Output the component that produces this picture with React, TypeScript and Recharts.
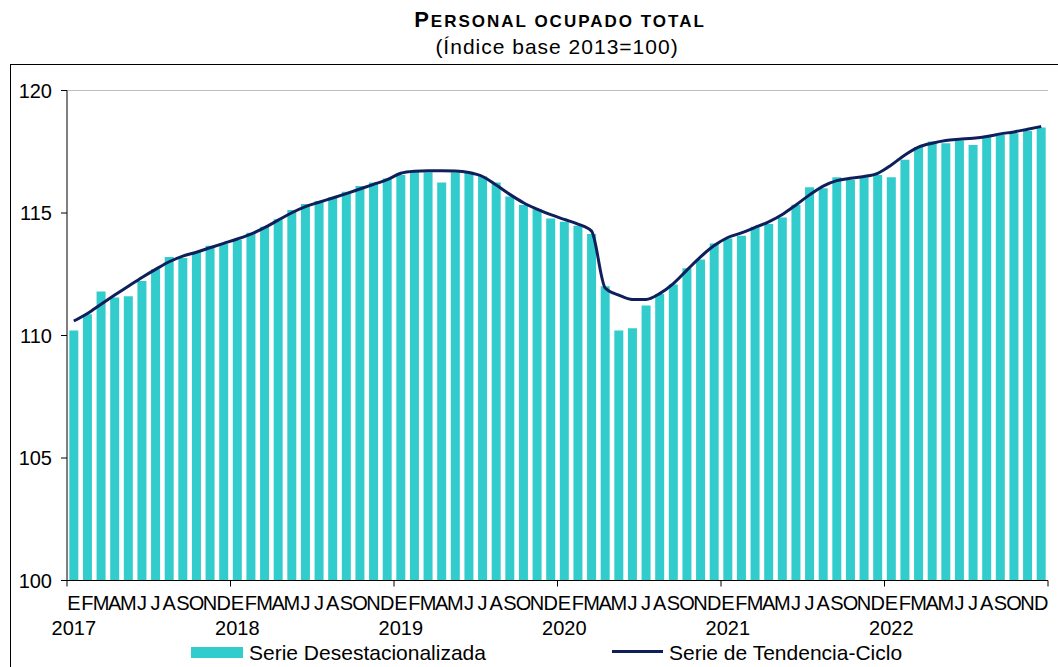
import { Bar, ComposedChart, Line, ReferenceLine, XAxis, YAxis } from "recharts";

const letrasMes = ["E", "F", "M", "A", "M", "J", "J", "A", "S", "O", "N", "D"];
const anios = ["2017", "2018", "2019", "2020", "2021", "2022"];

// Serie desestacionalizada (índice base 2013=100), ene-2017 a dic-2022
const serieDesestacionalizada = [
  110.2, 110.87, 111.8, 111.55, 111.6, 112.22, 112.7, 113.2, 113.16, 113.42, 113.66, 113.76,
  113.92, 114.19, 114.44, 114.74, 115.12, 115.37, 115.49, 115.64, 115.87, 116.1, 116.24, 116.41,
  116.55, 116.75, 116.66, 116.25, 116.66, 116.68, 116.49, 116.25, 115.67, 115.33, 115.15, 114.78,
  114.64, 114.48, 114.14, 112.01, 110.2, 110.3, 111.22, 111.69, 112.08, 112.75, 113.1, 113.76,
  113.96, 114.07, 114.44, 114.55, 114.82, 115.34, 116.05, 116.01, 116.46, 116.35, 116.46, 116.55,
  116.46, 117.17, 117.69, 117.92, 117.85, 117.96, 117.78, 118.1, 118.19, 118.26, 118.35, 118.49,
];

// Serie de tendencia-ciclo
const serieTendenciaCiclo = [
  110.59, 110.9, 111.28, 111.65, 112.01, 112.37, 112.7, 113.01, 113.24, 113.4, 113.58, 113.76,
  113.94, 114.14, 114.4, 114.71, 115.01, 115.26, 115.44, 115.61, 115.79, 115.98, 116.17, 116.36,
  116.62, 116.7, 116.72, 116.72, 116.71, 116.65, 116.49, 116.14, 115.76, 115.42, 115.16, 114.93,
  114.74, 114.55, 114.26, 111.94, 111.65, 111.47, 111.47, 111.71, 112.12, 112.67, 113.21, 113.67,
  114.0, 114.19, 114.41, 114.64, 114.94, 115.33, 115.74, 116.1, 116.32, 116.42, 116.49, 116.62,
  116.96, 117.37, 117.69, 117.85, 117.96, 118.01, 118.05, 118.12, 118.23, 118.31, 118.42, 118.53,
];

const ticksY = [100, 105, 110, 115, 120];

const datos = anios.flatMap((anio, a) =>
  letrasMes.map((mes, m) => ({
    mes,
    anio,
    desest: serieDesestacionalizada[a * 12 + m],
    tendencia: serieTendenciaCiclo[a * 12 + m],
  }))
);

const TURQUESA = "#33CCCC";
const AZUL = "#0F1F5C";
const FUENTE = '"Liberation Sans", Arial, sans-serif';

function MesTick(props: any) {
  const { x, y, payload, index, width, visibleTicksCount } = props;
  const medio = width / visibleTicksCount / 2;
  const ejeY = y - 15;
  return (
    <g>
      <text x={x} y={y} dy="0.71em" textAnchor="middle" fontSize={20} fill="#000">
        {payload.value}
      </text>
      {index % 12 === 0 && (
        <line x1={x - medio} x2={x - medio} y1={ejeY} y2={ejeY + 6} stroke="#000" />
      )}
      {index === visibleTicksCount - 1 && (
        <line x1={x + medio} x2={x + medio} y1={ejeY} y2={ejeY + 6} stroke="#000" />
      )}
    </g>
  );
}

export default function App() {
  return (
    <div
      style={{
        position: "absolute",
        left: 0,
        top: 0,
        width: 1058,
        height: 667,
        overflow: "hidden",
        background: "#fff",
        fontFamily: FUENTE,
        color: "#000",
      }}
    >
      <div
        style={{
          position: "absolute",
          left: 10,
          top: 64,
          width: 1100,
          height: 700,
          borderLeft: "1px solid #000",
          borderTop: "1px solid #000",
        }}
      />
      <div
        style={{
          position: "absolute",
          top: 8,
          left: 0,
          width: 1120,
          textAlign: "center",
          lineHeight: "24px",
          fontWeight: "bold",
          whiteSpace: "nowrap",
        }}
      >
        <span style={{ fontSize: 22, letterSpacing: 2 }}>P</span>
        <span style={{ fontSize: 17, letterSpacing: 2 }}>ERSONAL OCUPADO TOTAL</span>
      </div>
      <div
        style={{
          position: "absolute",
          top: 36,
          left: 0,
          width: 1114,
          textAlign: "center",
          fontSize: 21,
          letterSpacing: 1,
          lineHeight: "22px",
          whiteSpace: "nowrap",
        }}
      >
        (Índice base 2013=100)
      </div>

      <div style={{ position: "absolute", left: 0, top: 0 }}>
        <ComposedChart
          width={1058}
          height={667}
          data={datos}
          margin={{ top: 90.5, right: 10, left: 0, bottom: 30.5 }}
          barCategoryGap="17%"
        >
          <XAxis
            dataKey="mes"
            interval={0}
            height={30}
            axisLine={{ stroke: "#000" }}
            tickLine={false}
            tickSize={6}
            tickMargin={9}
            tick={<MesTick />}
          />
          <XAxis
            xAxisId="anio"
            dataKey="anio"
            interval={0}
            height={26}
            axisLine={false}
            tickLine={false}
            tickSize={0}
            tickMargin={10}
            tick={{ fontSize: 20, fill: "#000" }}
            tickFormatter={(v: string, i: number) => (i % 12 === 0 ? v : "")}
          />
          <YAxis
            domain={[100, 120]}
            ticks={ticksY}
            width={67}
            tickSize={6}
            tickMargin={9}
            axisLine={{ stroke: "#000" }}
            tickLine={{ stroke: "#000" }}
            tick={{ fontSize: 20, fill: "#000" }}
          />
          <YAxis
            yAxisId="borde"
            orientation="right"
            width={0}
            domain={[0, 1]}
            tick={false}
            tickLine={false}
            axisLine={{ stroke: "#BFBFBF" }}
          />
          <ReferenceLine y={120} stroke="#BFBFBF" />
          <Bar dataKey="desest" name="Serie Desestacionalizada" fill={TURQUESA} isAnimationActive={false} />
          <Line
            dataKey="tendencia"
            name="Serie de Tendencia-Ciclo"
            type="monotone"
            stroke={AZUL}
            strokeWidth={3}
            dot={false}
            activeDot={false}
            isAnimationActive={false}
          />
        </ComposedChart>
      </div>

      <div style={{ position: "absolute", left: 191, top: 647, width: 52, height: 11, background: TURQUESA }} />
      <div
        style={{ position: "absolute", left: 249, top: 641, fontSize: 21, lineHeight: "24px", whiteSpace: "nowrap" }}
      >
        Serie Desestacionalizada
      </div>
      <div style={{ position: "absolute", left: 612, top: 650, width: 51, height: 3, background: AZUL }} />
      <div
        style={{ position: "absolute", left: 669, top: 641, fontSize: 21, lineHeight: "24px", whiteSpace: "nowrap" }}
      >
        Serie de Tendencia-Ciclo
      </div>
    </div>
  );
}
